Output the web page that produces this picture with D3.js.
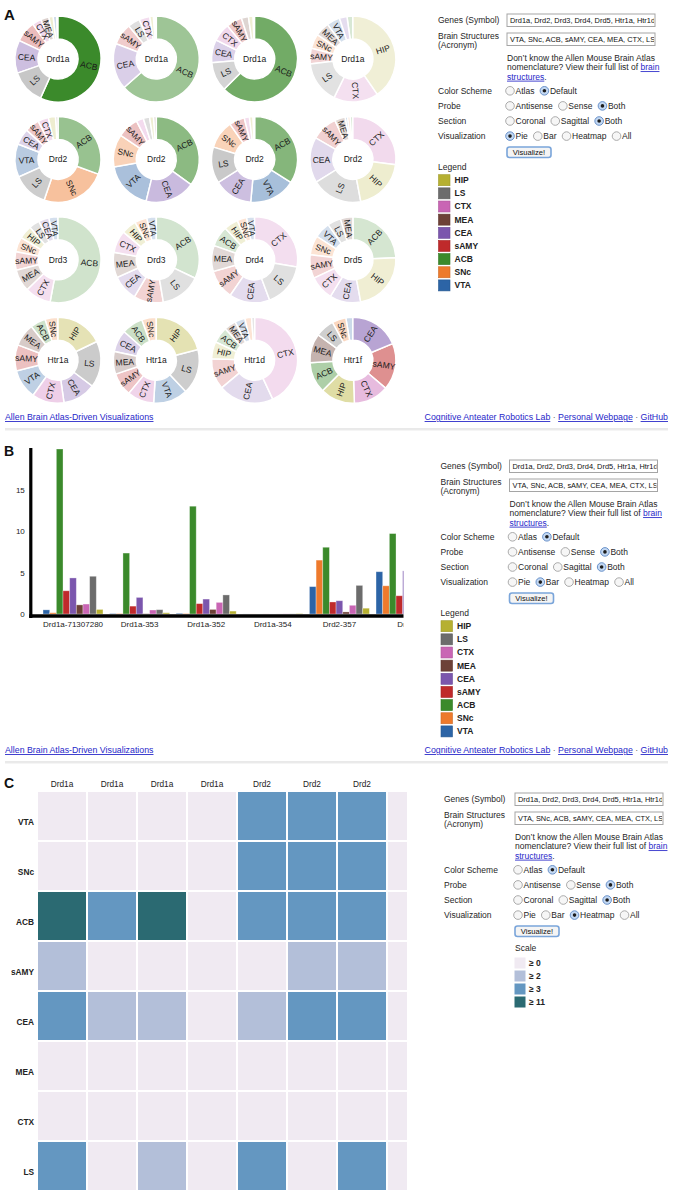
<!DOCTYPE html>
<html>
<head>
<meta charset="utf-8">
<title>Allen Brain Atlas-Driven Visualizations</title>
<script src="https://d3js.org/d3.v7.min.js"></script>
<style>
  body { margin: 0; background: #fff; }
  svg { display: block; font-family: 'Liberation Sans', Arial, sans-serif; }
  .lnk { fill: #2727c9; text-decoration: underline; }
</style>
</head>
<body>
<script>
'use strict';

// brain structures, in the order used by the bars and the heatmap rows
const structures = ['VTA', 'SNc', 'ACB', 'sAMY', 'CEA', 'MEA', 'CTX', 'LS', 'HIP'];
const structureColors = ['#2c64a6', '#ee7a2c', '#3b8a2b', '#bf2a2b', '#7b56ad', '#6d4137', '#c965b4', '#6c6c6c', '#b6b031'];

const probeGenes = ['Drd1a', 'Drd1a', 'Drd1a', 'Drd1a', 'Drd2', 'Drd2', 'Drd2', 'Drd2',
                    'Drd3', 'Drd3', 'Drd4', 'Drd5', 'Htr1a', 'Htr1a', 'Htr1d', 'Htr1f'];
const probeLabels = ['Drd1a-71307280', 'Drd1a-353', 'Drd1a-352', 'Drd1a-354', 'Drd2-357', 'Drd2', 'Drd2', 'Drd2',
                     'Drd3', 'Drd3', 'Drd4', 'Drd5', 'Htr1a', 'Htr1a', 'Htr1d', 'Htr1f'];

// expression per probe: VTA, SNc, ACB, sAMY, CEA, MEA, CTX, LS, HIP
const probeValues = [
  [0.5, 0.15, 19.9, 2.8, 4.35, 1.1, 1.2, 4.55, 0.55],
  [0.05, 0.05, 7.35, 0.95, 2.0, 0.03, 0.48, 0.52, 0.15],
  [0.08, 0.05, 13.0, 1.25, 1.8, 0.55, 1.4, 2.3, 0.35],
  [0.005, 0.0055, 0.0022, 0.0058, 0.0028, 0.0053, 0.0167, 0.0158, 0.04],
  [3.3, 6.5, 8.05, 1.45, 1.6, 0.25, 1.05, 3.45, 0.7],
  [5.1, 3.4, 9.7, 2.2, 5.2, 0.3, 0.75, 0.65, 0.4],
  [5.4, 3.3, 10.5, 1.8, 4.5, 0.2, 0.6, 4.2, 0.4],
  [0.04, 0.04, 0.04, 0.4, 0.7, 0.16, 1.1, 0.78, 0.82],
  [0.062, 0.1, 0.95, 0.125, 0.07, 0.15, 0.175, 0.072, 0.09],
  [0.078, 0.1, 0.69, 0.24, 0.21, 0.205, 0.18, 0.33, 0.12],
  [0.044, 0.052, 0.112, 0.16, 0.22, 0.14, 0.4, 0.24, 0.076],
  [0.088, 0.104, 0.348, 0.128, 0.168, 0.068, 0.132, 0.072, 0.328],
  [2.5, 1.1, 1.3, 2.2, 2.8, 1.9, 2.7, 3.9, 4.0],
  [2.6, 1.1, 1.6, 1.75, 1.65, 1.7, 2.0, 3.4, 4.2],
  [0.07, 0.045, 0.11, 0.21, 0.375, 0.08, 0.775, 0.02, 0.115],
  [1.2, 2.4, 5.3, 8.0, 8.5, 5.0, 6.0, 3.2, 5.9]
];

const yTicks = [0, 5, 10, 15];
const heatThresholds = [1.5, 2.9, 11];
const heatColors = ['#f0eaf2', '#b3bfd9', '#6497c1', '#2b6a72'];
const heatLabels = ['≥ 0', '≥ 2', '≥ 3', '≥ 11'];

const genesField = 'Drd1a, Drd2, Drd3, Drd4, Drd5, Htr1a, Htr1d, Htr1f';
const formRows = [
  ['Color Scheme', ['Atlas', 'Default'], 1],
  ['Probe', ['Antisense', 'Sense', 'Both'], 2],
  ['Section', ['Coronal', 'Sagittal', 'Both'], 2],
  ['Visualization', ['Pie', 'Bar', 'Heatmap', 'All'], 0]
];

const W = 673, H = 1190;
const barClipW = 403.5, heatClipW = 407;
const svg = d3.select('body').append('svg').attr('width', W).attr('height', H);
svg.append('rect').attr('width', W).attr('height', H).attr('fill', '#fff');
const defs = svg.append('defs');

const colorOf = d3.scaleOrdinal().domain(structures).range(structureColors);
const maxVal = d3.max(probeValues, r => d3.max(r));
const shade = d3.scaleLinear().domain([0, maxVal]).range([0.2, 1]);

function panelLetter(t, y, size) {
  svg.append('text').attr('x', 4).attr('y', y).attr('font-size', size + 'px')
    .attr('font-weight', 'bold').attr('fill', '#111').text(t);
}

/* ---------- A: donuts ---------- */
panelLetter('A', 20, 15);
const pie = d3.pie().value(d => d.value);
const arc = d3.arc().innerRadius(20).outerRadius(43);

probeValues.forEach((vals, i) => {
  const g = svg.append('g')
    .attr('transform', `translate(${58 + 98.3 * (i % 4)},${59 + 100.4 * Math.floor(i / 4)})`);
  const arcs = pie(structures.map((s, k) => ({ name: s, value: vals[k] })));
  g.selectAll('path').data(arcs).join('path')
    .attr('d', arc)
    .attr('fill', d => colorOf(d.data.name))
    .attr('fill-opacity', d => shade(d.data.value))
    .attr('stroke', '#fff').attr('stroke-width', 1.5);
  g.selectAll('text.sl').data(arcs.filter(d => d.endAngle - d.startAngle > 0.185)).join('text')
    .attr('class', 'sl')
    .attr('transform', d => {
      const c = arc.centroid(d);
      let a = (d.startAngle + d.endAngle) / 2 * 180 / Math.PI - 90;
      if (a > 90) a -= 180;
      return `translate(${c[0]},${c[1]}) rotate(${a})`;
    })
    .attr('text-anchor', 'middle').attr('dy', '0.35em')
    .attr('font-size', '8.5px').attr('fill', '#1a1a1a')
    .text(d => d.data.name);
  g.append('text').attr('text-anchor', 'middle').attr('dy', '0.35em')
    .attr('font-size', '8.5px').attr('fill', '#1a1a1a').text(probeGenes[i]);
});

/* ---------- B: grouped bars ---------- */
panelLetter('B', 456, 14);
defs.append('clipPath').attr('id', 'clipBar')
  .append('rect').attr('x', 0).attr('y', 435).attr('width', barClipW).attr('height', 200);
const barG = svg.append('g').attr('clip-path', 'url(#clipBar)');

const x0 = d3.scaleBand().domain(d3.range(probeValues.length))
  .range([39.7, 39.7 + 66.6 * probeValues.length]).paddingInner(0.1).paddingOuter(0.05);
const x1 = d3.scaleBand().domain(structures).range([0, x0.bandwidth()]);
const y = d3.scaleLinear().domain([0, maxVal]).range([614, 449]);

probeValues.forEach((vals, i) => {
  barG.append('g').attr('transform', `translate(${x0(i)},0)`)
    .selectAll('rect').data(structures.map((s, k) => ({ name: s, value: vals[k] }))).join('rect')
    .attr('x', d => x1(d.name)).attr('width', x1.bandwidth())
    .attr('y', d => y(d.value)).attr('height', d => y(0) - y(d.value))
    .attr('fill', d => colorOf(d.name))
    .attr('stroke', '#fff').attr('stroke-opacity', 0.4).attr('stroke-width', 0.8);
});

// only the groups that begin inside the visible area get a label
const shownGroups = x0.domain().filter(i => x0(i) + x0.bandwidth() / 2 - 16 < barClipW);
const xAxis = barG.append('g').attr('transform', 'translate(0,617)')
  .call(d3.axisBottom(x0).tickValues(shownGroups).tickSize(0).tickPadding(4).tickFormat(i => probeLabels[i]));
xAxis.select('.domain').remove();
xAxis.selectAll('text').attr('font-size', '8px').attr('fill', '#222').attr('font-family', null);

const yAxis = svg.append('g').attr('transform', 'translate(30.8,0)')
  .call(d3.axisLeft(y).tickValues(yTicks).tickSize(0).tickPadding(6));
yAxis.select('.domain').remove();
yAxis.selectAll('text').attr('font-size', '8px').attr('fill', '#222').attr('font-family', null);

svg.append('line').attr('x1', 30.8).attr('x2', 30.8).attr('y1', y.range()[1] - 1).attr('y2', 618)
  .attr('stroke', '#000').attr('stroke-width', 3.2);
barG.append('line').attr('x1', 29.2).attr('x2', 410).attr('y1', 616).attr('y2', 616)
  .attr('stroke', '#000').attr('stroke-width', 3.6);

/* ---------- C: heatmap ---------- */
panelLetter('C', 788, 14);
defs.append('clipPath').attr('id', 'clipHeat')
  .append('rect').attr('x', 0).attr('y', 770).attr('width', heatClipW).attr('height', 430);
const heatG = svg.append('g').attr('clip-path', 'url(#clipHeat)');
const hx = d3.scaleBand().domain(d3.range(probeValues.length))
  .range([37, 37 + 50 * probeValues.length]).paddingInner(0.04).paddingOuter(0.02);
const hy = d3.scaleBand().domain(structures)
  .range([791, 791 + 50 * structures.length]).paddingInner(0.04).paddingOuter(0.02);
const heatColor = d3.scaleThreshold().domain(heatThresholds).range(heatColors);

probeValues.forEach((vals, i) => {
  heatG.selectAll(null).data(structures.map((s, k) => ({ name: s, value: vals[k] }))).join('rect')
    .attr('x', hx(i)).attr('width', hx.bandwidth())
    .attr('y', d => hy(d.name)).attr('height', hy.bandwidth())
    .attr('fill', d => heatColor(d.value));
});
const shownCols = hx.domain().filter(i => hx(i) + hx.bandwidth() / 2 + 12 < heatClipW);
heatG.selectAll('text.col').data(shownCols).join('text').attr('class', 'col')
  .attr('x', i => hx(i) + hx.bandwidth() / 2).attr('y', 784).attr('dy', '0.35em')
  .attr('text-anchor', 'middle').attr('font-size', '8.3px').attr('fill', '#222').text(i => probeGenes[i]);
svg.selectAll('text.row').data(structures.filter(s => hy(s) + 30 < H - 4)).join('text').attr('class', 'row')
  .attr('x', 34).attr('y', d => hy(d) + 30).attr('dy', '0.35em')
  .attr('text-anchor', 'end').attr('font-size', '8.3px').attr('font-weight', 'bold')
  .attr('fill', '#222').text(d => d);

/* ---------- form and legends ---------- */
let clipN = 0;
function inputBox(f, x, yy, txt) {
  const id = 'inp' + (clipN++);
  defs.append('clipPath').attr('id', id).append('rect')
    .attr('x', x + 1).attr('y', yy).attr('width', 146).attr('height', 12.5);
  f.append('rect').attr('x', x).attr('y', yy).attr('width', 148).attr('height', 12.5)
    .attr('fill', '#fff').attr('stroke', '#a5a5a5').attr('stroke-width', 1);
  f.append('text').attr('clip-path', `url(#${id})`).attr('x', x + 3).attr('y', yy + 6.4)
    .attr('dy', '0.35em').attr('font-size', '7.4px').attr('fill', '#111').text(txt);
}

function radioRow(f, x, yy, options, chosen) {
  let cx = x + 3;
  options.forEach((o, k) => {
    const on = k === chosen;
    f.append('circle').attr('cx', cx).attr('cy', yy).attr('r', 4.3)
      .attr('fill', on ? '#c3d8f2' : '#f6f6f6').attr('stroke', on ? '#5b87c4' : '#a2a2a2').attr('stroke-width', 0.9);
    if (on) f.append('circle').attr('cx', cx).attr('cy', yy).attr('r', 1.8).attr('fill', '#1d1d1d');
    const t = f.append('text').attr('x', cx + 5.5).attr('y', yy).attr('dy', '0.35em').text(o);
    cx = cx + 5.5 + t.node().getComputedTextLength() + 10;
  });
}

function drawForm(lx, fx, oy, vizChoice, withScale) {
  const f = svg.append('g').attr('font-size', '8.5px').attr('fill', '#262626');
  f.append('text').attr('x', lx).attr('y', oy + 20.5).attr('dy', '0.35em').text('Genes (Symbol)');
  inputBox(f, fx, oy + 14, genesField);
  f.append('text').attr('x', lx).attr('y', oy + 36).attr('dy', '0.35em').text('Brain Structures');
  f.append('text').attr('x', lx).attr('y', oy + 45.3).attr('dy', '0.35em').text('(Acronym)');
  inputBox(f, fx, oy + 33, structures.join(', '));

  f.append('text').attr('x', fx).attr('y', oy + 57.7).attr('dy', '0.35em')
    .text('Don\u2019t know the Allen Mouse Brain Atlas');
  const l2 = f.append('text').attr('x', fx).attr('y', oy + 67.2).attr('dy', '0.35em');
  l2.append('tspan').text('nomenclature? View their full list of ');
  l2.append('tspan').attr('class', 'lnk').text('brain');
  const l3 = f.append('text').attr('x', fx).attr('y', oy + 76.7).attr('dy', '0.35em');
  l3.append('tspan').attr('class', 'lnk').text('structures');
  l3.append('tspan').text('.');

  formRows.forEach((r, k) => {
    const yy = oy + 90.8 + 15.1 * k;
    f.append('text').attr('x', lx).attr('y', yy).attr('dy', '0.35em').text(r[0]);
    radioRow(f, fx, yy, r[1], k === 3 ? vizChoice : r[2]);
  });

  f.append('rect').attr('x', fx).attr('y', oy + 147).attr('width', 44).attr('height', 10.5).attr('rx', 2.5)
    .attr('fill', '#f4f4f4').attr('stroke', '#7aa5da').attr('stroke-width', 1.6);
  f.append('text').attr('x', fx + 22).attr('y', oy + 152.3).attr('dy', '0.35em').attr('text-anchor', 'middle')
    .attr('font-size', '7.6px').attr('fill', '#111').text('Visualize!');

  if (!withScale) {
    f.append('text').attr('x', lx).attr('y', oy + 166.8).attr('dy', '0.35em').text('Legend');
    const leg = structures.slice().reverse();
    leg.forEach((s, k) => {
      const yy = oy + 180.2 + 13.15 * k;
      f.append('rect').attr('x', lx + 0.5).attr('y', yy - 5.5).attr('width', 11.5).attr('height', 11)
        .attr('fill', colorOf(s)).attr('stroke', d3.color(colorOf(s)).darker(0.4)).attr('stroke-width', 0.6);
      f.append('text').attr('x', lx + 16.5).attr('y', yy).attr('dy', '0.35em')
        .attr('font-weight', 'bold').attr('fill', '#222').text(s);
    });
  } else {
    f.append('text').attr('x', fx).attr('y', oy + 169).attr('dy', '0.35em').text('Scale');
    heatColors.forEach((c, k) => {
      const yy = oy + 184 + 13 * k;
      f.append('rect').attr('x', fx - 0.5).attr('y', yy - 5.5).attr('width', 11).attr('height', 11).attr('fill', c);
      f.append('text').attr('x', fx + 14).attr('y', yy).attr('dy', '0.35em')
        .attr('font-weight', 'bold').attr('fill', '#222').text(heatLabels[k]);
    });
  }
}

drawForm(438, 507, 0, 0, false);
drawForm(440.5, 509.5, 446, 1, false);
drawForm(444, 515, 779, 2, true);

/* ---------- footers ---------- */
function footer(yy) {
  const f = svg.append('g').attr('font-size', '8.8px');
  f.append('text').attr('class', 'lnk').attr('x', 5).attr('y', yy).attr('dy', '0.35em')
    .text('Allen Brain Atlas-Driven Visualizations');
  const r = f.append('text').attr('x', 668).attr('y', yy).attr('dy', '0.35em')
    .attr('text-anchor', 'end').attr('fill', '#666');
  r.append('tspan').attr('class', 'lnk').text('Cognitive Anteater Robotics Lab');
  r.append('tspan').text(' \u00b7 ');
  r.append('tspan').attr('class', 'lnk').text('Personal Webpage');
  r.append('tspan').text(' \u00b7 ');
  r.append('tspan').attr('class', 'lnk').text('GitHub');
  svg.append('line').attr('x1', 5).attr('x2', 668).attr('y1', yy + 12).attr('y2', yy + 12)
    .attr('stroke', '#d2d2d2').attr('stroke-width', 1);
  svg.append('line').attr('x1', 5).attr('x2', 668).attr('y1', yy + 13).attr('y2', yy + 13)
    .attr('stroke', '#ececec').attr('stroke-width', 1);
}
footer(417);
footer(750);
</script>
</body>
</html>
